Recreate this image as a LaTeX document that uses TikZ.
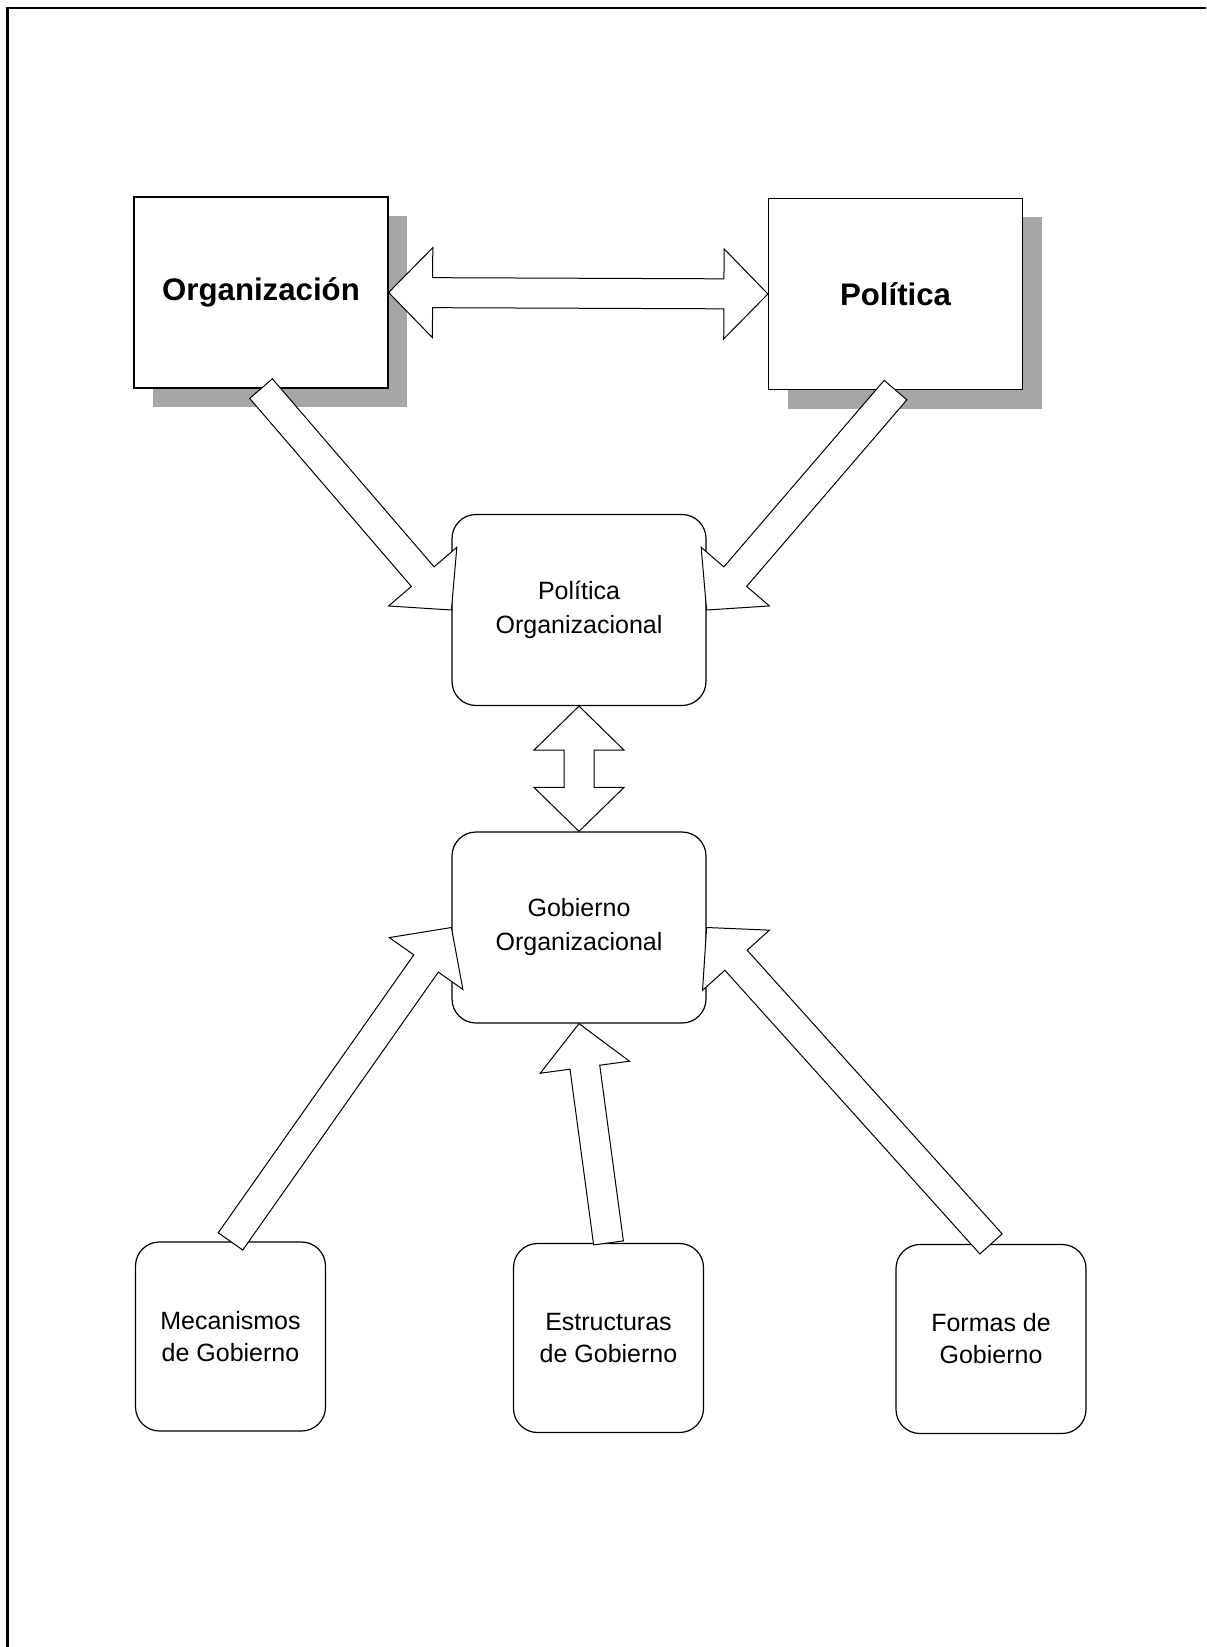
\documentclass[tikz,border=0pt]{standalone}
\usepackage{fontspec}
\setmainfont{Liberation Sans}
\usetikzlibrary{calc,shadows}

\tikzset{
  caja/.style={draw, line width=0.6pt, fill=white, minimum width=127pt, minimum height=95.5pt,
    inner sep=0pt, font=\fontsize{15.6pt}{19pt}\selectfont\bfseries,
    drop shadow={shadow xshift=9.5pt, shadow yshift=-9.5pt, opacity=1, fill=black!35}},
  redonda/.style={draw, line width=0.6pt, fill=white, rounded corners=12pt, minimum width=127pt,
    minimum height=95.5pt, inner sep=0pt, align=center, font=\fontsize{12.5pt}{17pt}\selectfont},
  pequena/.style={redonda, minimum width=95pt, minimum height=94.5pt,
    font=\fontsize{12.5pt}{16pt}\selectfont},
  bloque/.style={draw, line width=0.5pt, fill=white, line join=miter},
  marco/.style={line width=1.1pt}
}

% flecha de bloque: de #1 a #2
\newcommand{\flecha}[2]{%
  \coordinate (fb) at ($(#2)!22pt!(#1)$);
  \draw[bloque] ($(#1)!7.5pt!90:(#2)$) -- ($(fb)!7.5pt!90:(#2)$) -- ($(fb)!22.5pt!90:(#2)$) -- (#2)
    -- ($(fb)!22.5pt!-90:(#2)$) -- ($(fb)!7.5pt!-90:(#2)$) -- ($(#1)!7.5pt!-90:(#2)$) -- cycle;
}
% flecha de bloque con dos puntas
\newcommand{\flechadoble}[2]{%
  \coordinate (fa) at ($(#1)!22pt!(#2)$);
  \coordinate (fb) at ($(#2)!22pt!(#1)$);
  \draw[bloque] (#1) -- ($(fa)!22.5pt!90:(#2)$) -- ($(fa)!7.5pt!90:(#2)$) -- ($(fb)!7.5pt!90:(#2)$)
    -- ($(fb)!22.5pt!90:(#2)$) -- (#2) -- ($(fb)!22.5pt!-90:(#2)$) -- ($(fb)!7.5pt!-90:(#2)$)
    -- ($(fa)!7.5pt!-90:(#2)$) -- ($(fa)!22.5pt!-90:(#2)$) -- cycle;
}

\begin{document}
\begin{tikzpicture}[x=0.5pt,y=-0.5pt]
\useasboundingbox (0,0) rectangle (1206,1647);
\draw[marco] (7.5,1647) -- (7.5,8) -- (1206,8);

\node[caja] (org) at (261,292.5) {Organización};
\node[caja] (pol) at (895.5,294) {Política};
\node[redonda] (polorg) at (579,610) {Política\\Organizacional};
\node[redonda] (gob) at (579,927.5) {Gobierno\\Organizacional};
\node[pequena] (mecan) at (230.5,1336.5) {Mecanismos\\de Gobierno};
\node[pequena] (estruc) at (608.5,1338) {Estructuras\\de Gobierno};
\node[pequena] (formas) at (991,1339) {Formas de\\Gobierno};

\flechadoble{org.east}{pol.west}
\flecha{org.south}{polorg.west}
\flecha{pol.south}{polorg.east}
\flechadoble{polorg.south}{gob.north}
\flecha{mecan.north}{gob.west}
\flecha{estruc.north}{gob.south}
\flecha{formas.north}{gob.east}
\end{tikzpicture}
\end{document}
